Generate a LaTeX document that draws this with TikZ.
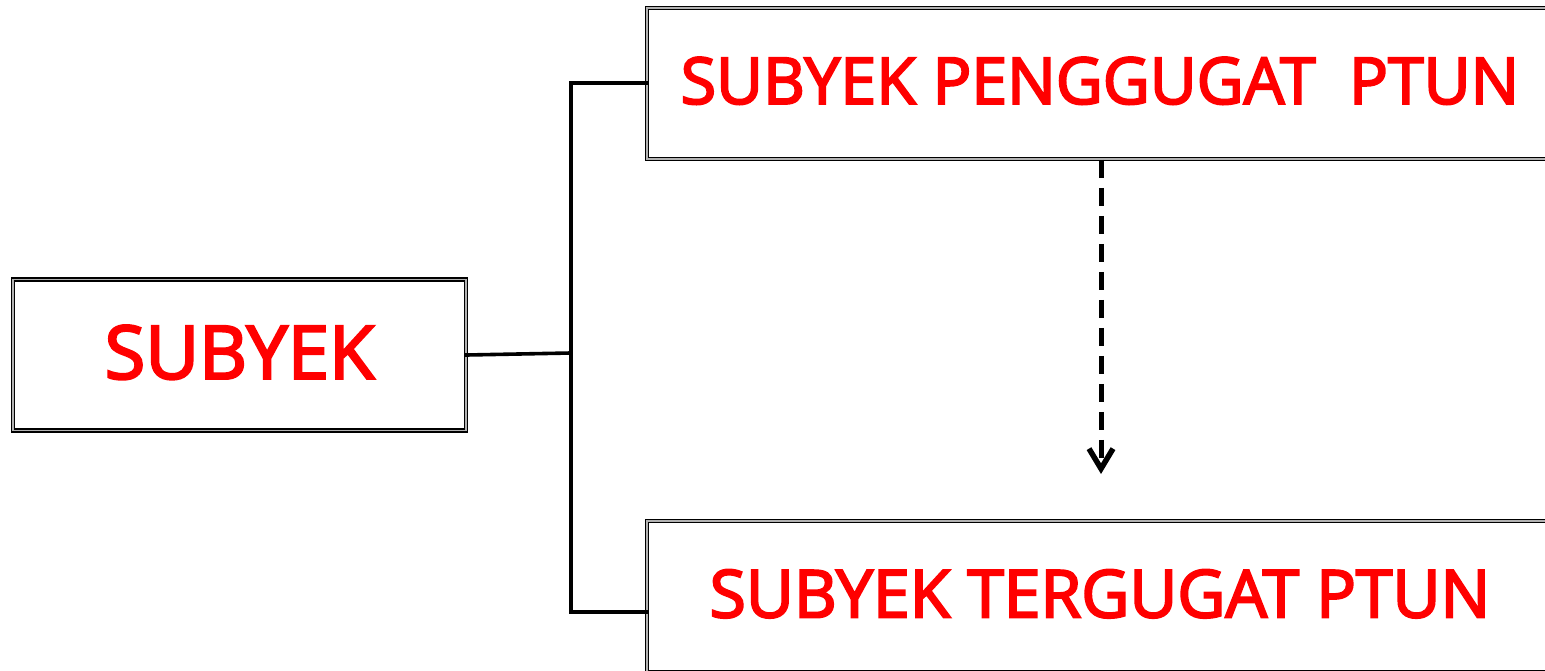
\documentclass[tikz,border=0pt]{standalone}
\usepackage{fontspec}
\newfontfamily\lblfont{Open Sans}[BoldFont={Open Sans},BoldFeatures={FakeBold=3.2}]
\usetikzlibrary{arrows.meta}
\definecolor{txtred}{RGB}{255,0,0}
\tikzset{
  dbox/.style={draw=black, line width=1.6pt, double=gray!60, double distance=1.4pt,
    fill=white, rectangle, inner sep=0pt, text=txtred},
  conn/.style={line width=3.6pt, line cap=rect},
  darrow/.style={line width=5pt, dash pattern=on 18pt off 10pt, -{Straight Barb[length=20pt,width=24pt,line width=5.5pt]}}
}
\newcommand{\lbltext}[2]{\raisebox{6pt}{\lblfont\bfseries\fontsize{#1}{#1}\selectfont #2}}
\begin{document}
\begin{tikzpicture}[x=1pt,y=-1pt]
\clip (0,0) rectangle (1545,671);
\fill[white] (0,0) rectangle (1545,671);
\node[dbox, minimum width=453pt, minimum height=151pt] (subyek) at (239.5,355) {\lbltext{74}{SUBYEK}};
\node[dbox, minimum width=906pt, minimum height=151pt] (penggugat) at (1100,83.5) {\lbltext{64.5}{SUBYEK PENGGUGAT\ \ PTUN}};
\node[dbox, minimum width=906pt, minimum height=151pt] (tergugat) at (1100,596.5) {\lbltext{66}{SUBYEK TERGUGAT PTUN}};
\coordinate (j) at (571,353);
\coordinate (top) at (571,83);
\coordinate (bot) at (571,612);
\draw[conn] (subyek.east) -- (j);
\draw[conn] (top) -- (bot);
\draw[conn] (top) -- (penggugat.west |- top);
\draw[conn] (bot) -- (tergugat.west |- bot);
\coordinate (arrend) at (1101,474);
\draw[darrow] (penggugat.south -| arrend) -- (arrend);
\end{tikzpicture}
\end{document}
